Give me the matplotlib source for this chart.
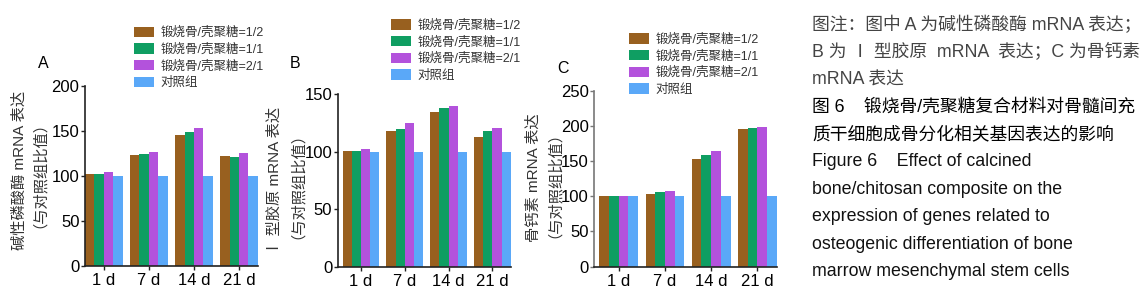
import matplotlib.pyplot as plt
import numpy as np

plt.rcParams['font.family'] = ['Liberation Sans', 'Noto Sans CJK SC', 'DejaVu Sans']

days = ['1 d', '7 d', '14 d', '21 d']
series = ['锻烧骨/壳聚糖=1/2', '锻烧骨/壳聚糖=1/1', '锻烧骨/壳聚糖=2/1', '对照组']
colors = ['#98601f', '#0f9e62', '#b352dc', '#5aa8f8']

# ALP (A), type I collagen (B), osteocalcin (C), relative to control
alp = [[102, 123, 146, 122],
       [102, 124, 149, 121],
       [104, 127, 153, 126],
       [100, 100, 100, 100]]
col1 = [[101, 118, 135, 113],
        [101, 120, 138, 118],
        [102, 125, 140, 121],
        [100, 100, 100, 100]]
ocn = [[100, 103, 153, 195],
       [100, 106, 158, 197],
       [100, 108, 164, 199],
       [100, 100, 100, 100]]

panels = [
    dict(label='A', data=alp, ymax=200, yt=[0, 50, 100, 150, 200],
         ylab=['碱性磷酸酶 mRNA 表达', '（与对照组比值）'],
         ylx=[19.5, 32], yly=[170, 167],
         rect=[0.0740, 0.0922, 0.1507, 0.6143], gap=0.0, spine='#222222',
         leg=(0.1115, 0.930), lab=(38, 63)),
    dict(label='B', data=col1, ymax=150, yt=[0, 50, 100, 150],
         ylab=['Ⅰ 型胶原 mRNA 表达', '（与对照组比值）'],
         ylx=[274.5, 289.5], yly=[181, 178],
         rect=[0.2942, 0.0898, 0.1507, 0.5884], gap=0.11, spine='#222222',
         leg=(0.3354, 0.955), lab=(290, 63)),
    dict(label='C', data=ocn, ymax=250, yt=[0, 50, 100, 150, 200, 250],
         ylab=['骨钙素 mRNA 表达', '（与对照组比值）'],
         ylx=[534, 547], yly=[178, 177],
         rect=[0.5177, 0.0898, 0.1589, 0.6007], gap=0.11, spine='#777777',
         leg=(0.5427, 0.907), lab=(557, 69)),
]

W, H = 1148, 293
fig = plt.figure(figsize=(11.48, 2.93), dpi=100)
w = 0.21
x = np.arange(len(days))

for p in panels:
    ax = fig.add_axes(p['rect'])
    for i, (name, vals) in enumerate(zip(series, p['data'])):
        ax.bar(x + (i - 1.5) * w, vals, w, color=colors[i], label=name)
    ax.set_xlim(-2 * w - p['gap'], 3 + 2 * w)
    ax.set_ylim(0, p['ymax'])
    ax.set_yticks(p['yt'])
    ax.set_xticks(x)
    ax.set_xticklabels(days, fontsize=12)
    ax.tick_params(axis='y', labelsize=12, length=3, width=1, pad=1,
                   colors=p['spine'], labelcolor='black')
    ax.tick_params(axis='x', length=3, width=1, pad=2, colors='#222222',
                   labelcolor='black')
    for s in ['top', 'right']:
        ax.spines[s].set_visible(False)
    ax.spines['left'].set_color(p['spine'])
    ax.spines['bottom'].set_color('#222222')
    ax.spines['left'].set_linewidth(1.2)
    ax.spines['bottom'].set_linewidth(1.2)
    for t, lx, ly in zip(p['ylab'], p['ylx'], p['yly']):
        fig.text(lx / W, 1 - ly / H, t, rotation=90, fontsize=11,
                 color='#333333', ha='center', va='center')
    ax.legend(loc='upper left', bbox_to_anchor=p['leg'],
              bbox_transform=fig.transFigure, frameon=False, fontsize=9,
              borderpad=0, labelspacing=0.33, handlelength=1.6,
              handleheight=0.9, handletextpad=0.5, labelcolor='#333333')
    fig.text(p['lab'][0] / W, 1 - p['lab'][1] / H, p['label'], fontsize=11.5,
             ha='left', va='center')

caption = [
    ('图注：图中 A 为碱性磷酸酶 mRNA 表达；', '#444444'),
    ('B 为 Ⅰ 型胶原  mRNA  表达；C 为骨钙素', '#444444'),
    ('mRNA 表达', '#444444'),
    ('图 6    锻烧骨/壳聚糖复合材料对骨髓间充', '#000000'),
    ('质干细胞成骨分化相关基因表达的影响', '#000000'),
    ('Figure 6    Effect of calcined', '#111111'),
    ('bone/chitosan composite on the', '#111111'),
    ('expression of genes related to', '#111111'),
    ('osteogenic differentiation of bone', '#111111'),
    ('marrow mesenchymal stem cells', '#111111'),
]
for k, (line, c) in enumerate(caption):
    fig.text(812 / W, 1 - (25 + k * 27.4) / H, line, fontsize=12.8,
             color=c, ha='left', va='center')

fig.savefig('out.png', dpi=100)
